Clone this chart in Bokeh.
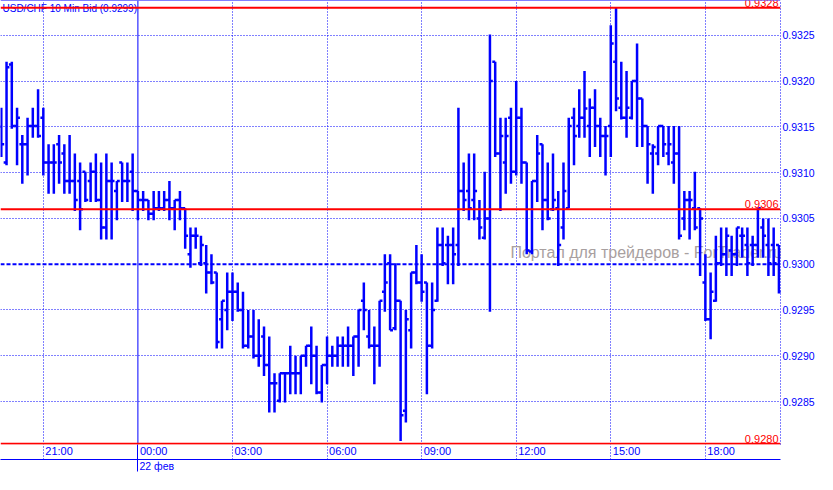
import numpy as np
import pandas as pd
from bokeh.plotting import figure
from bokeh.models import (Range1d, LinearAxis, FixedTicker, Grid, Span, Label,
                          PrintfTickFormatter, ColumnDataSource)
from bokeh.embed import file_html
from bokeh.resources import INLINE

# ---------------- data ----------------
symbol_title = "USD/CHF 10 Min Bid (0.9299)"
start_time = "2011-02-21 19:40"

opens = [0.93150, 0.93111, 0.93218, 0.93151, 0.93131, 0.93131, 0.93151, 0.93151, 0.93160, 0.93111,
         0.93111, 0.93131, 0.93121, 0.93091, 0.93091, 0.93091, 0.93101, 0.93091, 0.93101, 0.93070,
         0.93040, 0.93091, 0.93080, 0.93111, 0.93091, 0.93101, 0.93080, 0.93070, 0.93070, 0.93055,
         0.93061, 0.93061, 0.93070, 0.93061, 0.93070, 0.93061, 0.93011, 0.93031, 0.93001, 0.93001,
         0.92991, 0.92991, 0.92940, 0.92950, 0.92970, 0.92970, 0.92950, 0.92911, 0.92921, 0.92900,
         0.92921, 0.92890, 0.92870, 0.92851, 0.92881, 0.92881, 0.92881, 0.92881, 0.92900, 0.92911,
         0.92900, 0.92860, 0.92890, 0.92900, 0.92900, 0.92911, 0.92911, 0.92911, 0.92921, 0.92960,
         0.92921, 0.92911, 0.92911, 0.92970, 0.93001, 0.92930, 0.92960, 0.92840, 0.92928, 0.92991,
         0.92980, 0.92980, 0.92911, 0.92960, 0.93021, 0.93021, 0.93021, 0.93021, 0.93080, 0.93080,
         0.93070, 0.93050, 0.93029, 0.93050, 0.93221, 0.93121, 0.93111, 0.93160, 0.93101, 0.93160,
         0.93111, 0.93014, 0.93091, 0.93131, 0.93070, 0.93060, 0.93061, 0.93040, 0.93061, 0.93160,
         0.93151, 0.93160, 0.93151, 0.93171, 0.93151, 0.93140, 0.93151, 0.93221, 0.93171, 0.93160,
         0.93160, 0.93200, 0.93181, 0.93151, 0.93121, 0.93121, 0.93151, 0.93121, 0.93111, 0.93121,
         0.93050, 0.93070, 0.93061, 0.93061, 0.92980, 0.92940, 0.92960, 0.93001, 0.93011, 0.93015,
         0.93011, 0.93031, 0.93021, 0.93021, 0.93021, 0.93040, 0.93021, 0.93021, 0.93021]
highs = [0.93171, 0.93221, 0.93221, 0.93171, 0.93141, 0.93160, 0.93171, 0.93191, 0.93171, 0.93131,
         0.93131, 0.93141, 0.93131, 0.93141, 0.93121, 0.93111, 0.93101, 0.93111, 0.93121, 0.93111,
         0.93121, 0.93111, 0.93091, 0.93111, 0.93111, 0.93121, 0.93080, 0.93080, 0.93070, 0.93080,
         0.93080, 0.93080, 0.93091, 0.93070, 0.93080, 0.93061, 0.93040, 0.93040, 0.93031, 0.93021,
         0.93011, 0.92991, 0.92960, 0.92991, 0.92991, 0.92980, 0.92970, 0.92950, 0.92950, 0.92940,
         0.92932, 0.92921, 0.92881, 0.92881, 0.92881, 0.92911, 0.92900, 0.92900, 0.92911, 0.92932,
         0.92911, 0.92890, 0.92921, 0.92911, 0.92921, 0.92921, 0.92932, 0.92921, 0.92950, 0.92980,
         0.92950, 0.92932, 0.92960, 0.93011, 0.93011, 0.93001, 0.92960, 0.92950, 0.92991, 0.93021,
         0.93011, 0.92980, 0.92980, 0.93040, 0.93040, 0.93031, 0.93040, 0.93171, 0.93111, 0.93121,
         0.93121, 0.93070, 0.93101, 0.93251, 0.93221, 0.93160, 0.93160, 0.93171, 0.93200, 0.93171,
         0.93111, 0.93091, 0.93141, 0.93131, 0.93111, 0.93121, 0.93080, 0.93111, 0.93160, 0.93171,
         0.93191, 0.93211, 0.93181, 0.93191, 0.93160, 0.93151, 0.93261, 0.93280, 0.93221, 0.93211,
         0.93200, 0.93241, 0.93181, 0.93151, 0.93131, 0.93151, 0.93151, 0.93151, 0.93151, 0.93151,
         0.93080, 0.93080, 0.93101, 0.93061, 0.93011, 0.92991, 0.93031, 0.93040, 0.93040, 0.93031,
         0.93040, 0.93040, 0.93040, 0.93031, 0.93061, 0.93050, 0.93050, 0.93040, 0.93021]
lows = [0.93117, 0.93108, 0.93148, 0.93108, 0.93088, 0.93097, 0.93138, 0.93138, 0.93097, 0.93077,
        0.93077, 0.93088, 0.93077, 0.93077, 0.93058, 0.93037, 0.93068, 0.93068, 0.93068, 0.93027,
        0.93027, 0.93027, 0.93048, 0.93068, 0.93068, 0.93058, 0.93048, 0.93058, 0.93048, 0.93048,
        0.93058, 0.93058, 0.93048, 0.93037, 0.93048, 0.93017, 0.92996, 0.93017, 0.92998, 0.92968,
        0.92978, 0.92908, 0.92908, 0.92928, 0.92938, 0.92948, 0.92908, 0.92908, 0.92897, 0.92888,
        0.92878, 0.92838, 0.92838, 0.92849, 0.92849, 0.92858, 0.92858, 0.92858, 0.92888, 0.92869,
        0.92858, 0.92849, 0.92869, 0.92888, 0.92888, 0.92888, 0.92888, 0.92878, 0.92888, 0.92928,
        0.92908, 0.92869, 0.92888, 0.92948, 0.92928, 0.92928, 0.92807, 0.92827, 0.92908, 0.92978,
        0.92959, 0.92858, 0.92908, 0.92959, 0.92998, 0.92978, 0.92978, 0.92998, 0.93058, 0.93048,
        0.93048, 0.93027, 0.93027, 0.92948, 0.93117, 0.93058, 0.93077, 0.93088, 0.93097, 0.93088,
        0.93011, 0.93011, 0.93068, 0.93037, 0.93048, 0.93058, 0.92998, 0.93027, 0.93061, 0.93108,
        0.93138, 0.93138, 0.93117, 0.93128, 0.93117, 0.93097, 0.93117, 0.93167, 0.93158, 0.93138,
        0.93158, 0.93128, 0.93128, 0.93088, 0.93077, 0.93108, 0.93117, 0.93108, 0.93088, 0.93027,
        0.93037, 0.93027, 0.93037, 0.92987, 0.92938, 0.92918, 0.92959, 0.92998, 0.92987, 0.92987,
        0.92998, 0.93007, 0.92987, 0.92998, 0.93007, 0.93007, 0.92987, 0.92987, 0.92968]
closes = [0.93131, 0.93215, 0.93151, 0.93160, 0.93131, 0.93151, 0.93151, 0.93140, 0.93111, 0.93111,
          0.93111, 0.93111, 0.93091, 0.93091, 0.93070, 0.93060, 0.93070, 0.93101, 0.93070, 0.93040,
          0.93091, 0.93091, 0.93091, 0.93091, 0.93091, 0.93080, 0.93070, 0.93070, 0.93055, 0.93061,
          0.93061, 0.93070, 0.93061, 0.93070, 0.93061, 0.93031, 0.93031, 0.93031, 0.93021, 0.92991,
          0.92980, 0.92915, 0.92960, 0.92970, 0.92970, 0.92950, 0.92911, 0.92921, 0.92900, 0.92900,
          0.92890, 0.92870, 0.92870, 0.92881, 0.92881, 0.92881, 0.92881, 0.92900, 0.92911, 0.92900,
          0.92860, 0.92890, 0.92900, 0.92900, 0.92911, 0.92911, 0.92911, 0.92921, 0.92950, 0.92950,
          0.92911, 0.92911, 0.92960, 0.92980, 0.92928, 0.92960, 0.92835, 0.92940, 0.92991, 0.92980,
          0.92970, 0.92911, 0.92950, 0.93021, 0.93001, 0.93021, 0.93011, 0.93080, 0.93070, 0.93061,
          0.93080, 0.93040, 0.93050, 0.93200, 0.93121, 0.93140, 0.93140, 0.93101, 0.93160, 0.93111,
          0.93015, 0.93091, 0.93121, 0.93070, 0.93050, 0.93070, 0.93021, 0.93080, 0.93151, 0.93140,
          0.93160, 0.93170, 0.93171, 0.93151, 0.93140, 0.93140, 0.93241, 0.93181, 0.93160, 0.93171,
          0.93200, 0.93181, 0.93151, 0.93131, 0.93128, 0.93151, 0.93131, 0.93131, 0.93121, 0.93031,
          0.93070, 0.93070, 0.93040, 0.93050, 0.92940, 0.92970, 0.93001, 0.93011, 0.93031, 0.93011,
          0.93040, 0.93031, 0.93001, 0.93021, 0.93061, 0.93031, 0.93001, 0.93001, 0.92970]

hour_labels = ["21:00", "00:00", "03:00", "06:00", "09:00", "12:00", "15:00", "18:00"]
date_label = "22 фев"
date_label_at = "00:00"
price_ticks = [0.9285, 0.9290, 0.9295, 0.9300, 0.9305, 0.9310, 0.9315, 0.9320, 0.9325]
bid_level = 0.9300
level_values = [0.93280, 0.93060, 0.92804]
level_texts = ["0.9328", "0.9306", "0.9280"]
watermark = "Портал для трейдеров - ForTrader.ru"

# ---------------- styling ----------------
BLUE = "#0000FF"
RED = "#FF0000"
FONT = "Liberation Sans"

times = pd.date_range(start_time, periods=len(closes), freq="10min")
idx = np.arange(len(closes))
hhmm = np.array(times.strftime("%H:%M"))
hour_pos = [int(np.where(hhmm == h)[0][0]) for h in hour_labels]
date_pos = hour_pos[hour_labels.index(date_label_at)]
dotted_pos = [q for q, h in zip(hour_pos, hour_labels) if h != date_label_at]

label_shift = 3.0
date_shift = 3.6
tick_half = 0.55
y_lo, y_hi = 0.928031, 0.93288
x_lo, x_hi = -0.15, len(closes) - 1 + 0.3

p = figure(width=817, height=474, output_backend="svg", toolbar_location=None,
           x_range=Range1d(x_lo, x_hi), y_range=Range1d(y_lo, y_hi),
           x_axis_type=None, y_axis_type=None,
           min_border_left=0, min_border_top=0, min_border_right=34, min_border_bottom=0)
p.outline_line_color = None
p.background_fill_color = "white"
p.border_fill_color = "white"

# right price axis
yaxis = LinearAxis(ticker=FixedTicker(ticks=price_ticks),
                   formatter=PrintfTickFormatter(format="%.4f"),
                   major_tick_out=0, major_tick_in=0, minor_tick_out=0, minor_tick_in=0,
                   axis_line_color=BLUE, axis_line_dash="1 2", major_label_standoff=2,
                   major_label_text_color=BLUE, major_label_text_font=FONT,
                   major_label_text_font_size="10.5px")
p.add_layout(yaxis, "right")

# time axis: labels just right of the hour lines, dotted hour lines through the label row
xaxis = LinearAxis(ticker=FixedTicker(ticks=[q + label_shift for q in hour_pos], minor_ticks=dotted_pos),
                   major_label_overrides={q + label_shift: h for q, h in zip(hour_pos, hour_labels)},
                   major_tick_out=0, major_tick_in=0, minor_tick_in=0, minor_tick_out=15,
                   minor_tick_line_color=BLUE, minor_tick_line_dash="1 2",
                   axis_line_color=None, major_label_standoff=-15,
                   major_label_text_color=BLUE, major_label_text_font=FONT,
                   major_label_text_font_size="11px")
p.add_layout(xaxis, "below")

# date axis with the solid midnight separator
daxis = LinearAxis(ticker=FixedTicker(ticks=[date_pos + date_shift], minor_ticks=[date_pos]),
                   major_label_overrides={date_pos + date_shift: date_label},
                   major_tick_out=0, major_tick_in=0, minor_tick_in=15, minor_tick_out=12,
                   minor_tick_line_color=BLUE, axis_line_color=BLUE, major_label_standoff=-12,
                   major_label_text_color=BLUE, major_label_text_font=FONT,
                   major_label_text_font_size="10.5px")
p.add_layout(daxis, "below")

# grids
p.add_layout(Grid(dimension=1, ticker=FixedTicker(ticks=[t for t in price_ticks if t != bid_level]),
                  grid_line_color=BLUE, grid_line_dash="1 2", grid_line_width=1))
p.add_layout(Grid(dimension=0, ticker=FixedTicker(ticks=dotted_pos),
                  grid_line_color=BLUE, grid_line_dash="1 2", grid_line_width=1))

# watermark & title (under the bars)
p.add_layout(Label(x=96.9, y=0.93013, text=watermark, text_color="#A8A0A0",
                   text_font=FONT, text_font_size="16px", text_baseline="middle",
                   text_align="left", level="underlay"))
p.add_layout(Label(x=x_lo, y=y_hi, x_offset=2, y_offset=-2, text=symbol_title,
                   text_color=BLUE, text_font=FONT, text_font_size="10px",
                   text_baseline="top", text_align="left", level="underlay"))

p.add_layout(Span(location=date_pos, dimension="height", line_color=BLUE, line_width=1, level="underlay"))
p.add_layout(Span(location=y_hi, dimension="width", line_color=BLUE, line_width=1))

# OHLC bars
src = ColumnDataSource(dict(i=idx, il=idx - tick_half, ir=idx + tick_half,
                            o=opens, h=highs, l=lows, c=closes))
p.segment(x0="i", y0="l", x1="i", y1="h", source=src, line_color=BLUE, line_width=2.5)
p.segment(x0="il", y0="o", x1="i", y1="o", source=src, line_color=BLUE, line_width=2.5)
p.segment(x0="i", y0="c", x1="ir", y1="c", source=src, line_color=BLUE, line_width=2.5)

# bid line
p.add_layout(Span(location=bid_level, dimension="width", line_color=BLUE, line_width=2, line_dash="4 2"))

# high / low / level lines
for v, t in zip(level_values, level_texts):
    p.add_layout(Span(location=v, dimension="width", line_color=RED, line_width=2))
    p.add_layout(Label(x=x_hi, y=v, x_offset=-2, y_offset=1, text=t, text_color=RED,
                       text_font=FONT, text_font_size="11px", text_baseline="bottom",
                       text_align="right"))

open("out.html", "w").write(file_html(p, INLINE))
